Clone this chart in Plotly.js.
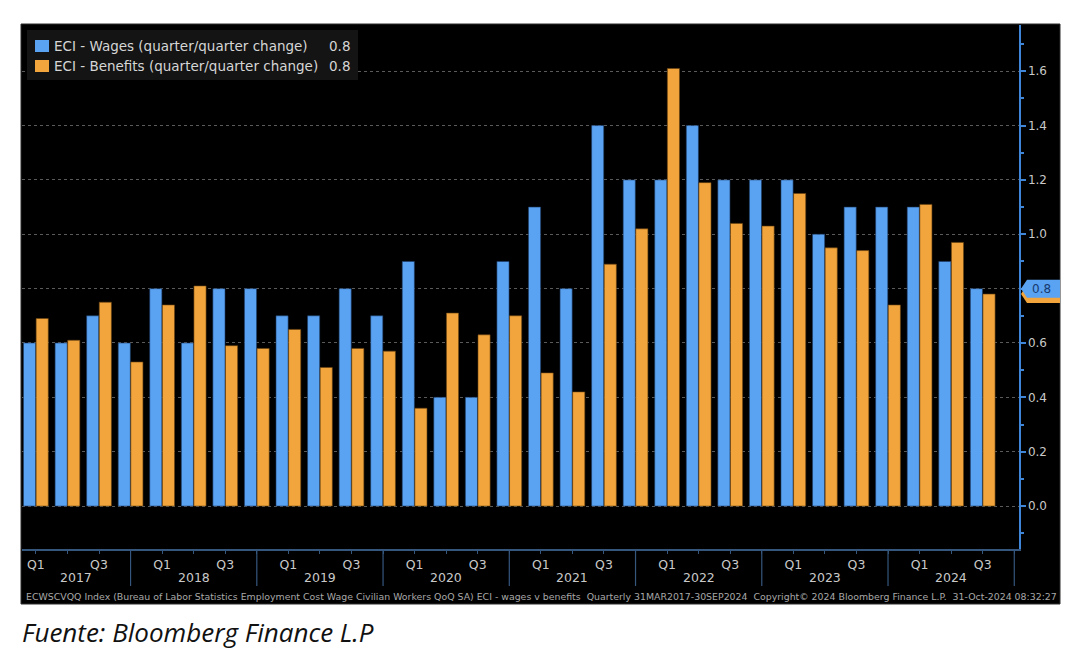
<!DOCTYPE html>
<html><head><meta charset="utf-8">
<script src="https://cdn.plot.ly/plotly-3.0.1.min.js"></script>
<style>html,body{margin:0;padding:0;background:#fff;}#chart{width:1084px;height:668px;}</style>
</head><body><div id="chart"></div>
<script>
// ---- data ----
const quarters = ["2017 Q1","2017 Q2","2017 Q3","2017 Q4",
  "2018 Q1","2018 Q2","2018 Q3","2018 Q4",
  "2019 Q1","2019 Q2","2019 Q3","2019 Q4",
  "2020 Q1","2020 Q2","2020 Q3","2020 Q4",
  "2021 Q1","2021 Q2","2021 Q3","2021 Q4",
  "2022 Q1","2022 Q2","2022 Q3","2022 Q4",
  "2023 Q1","2023 Q2","2023 Q3","2023 Q4",
  "2024 Q1","2024 Q2","2024 Q3"];
const wages = [0.6,0.6,0.7,0.6, 0.8,0.6,0.8,0.8, 0.7,0.7,0.8,0.7, 0.9,0.4,0.4,0.9,
  1.1,0.8,1.4,1.2, 1.2,1.4,1.2,1.2, 1.2,1.0,1.1,1.1, 1.1,0.9,0.8];
const benefits = [0.69,0.61,0.75,0.53, 0.74,0.81,0.59,0.58, 0.65,0.51,0.58,0.57, 0.36,0.71,0.63,0.70,
  0.49,0.42,0.89,1.02, 1.61,1.19,1.04,1.03, 1.15,0.95,0.94,0.74, 1.11,0.97,0.78];
const years = [2017,2018,2019,2020,2021,2022,2023,2024];
const yTicks = [0,0.2,0.4,0.6,0.8,1.0,1.2,1.4,1.6];
const seriesNames = ["ECI - Wages (quarter/quarter change)", "ECI - Benefits (quarter/quarter change)"];
const footerText = "ECWSCVQQ Index (Bureau of Labor Statistics Employment Cost Wage Civilian Workers QoQ SA) ECI - wages v benefits  Quarterly 31MAR2017-30SEP2024  Copyright\u00a9 2024 Bloomberg Finance L.P.  31-Oct-2024 08:32:27";
const captionText = "Fuente: Bloomberg Finance L.P";

// ---- styles ----
const BLUE = "#5aa2f2", ORANGE = "#f2a53d";
const FONT = "DejaVu Sans, Verdana, sans-serif";
const LBL = "#c9c9c9";

// plot-area geometry (pixels in page)
const L = 22, T = 25, R = 1019, B = 549;
const W = R - L, H = B - T;
const px = p => (p - L) / W;
const py = p => 1 - (p - T) / H;

const idx = quarters.map((q, i) => i);
const xRange = [-0.44, 31.15];
const yRange = [-0.158, 1.77];

const traces = [
  {type: "bar", x: idx, y: wages, name: seriesNames[0], text: quarters, textposition: "none",
   hovertemplate: "%{text}: %{y}<extra></extra>",
   marker: {color: BLUE, line: {color: "#1d3d66", width: 0.6}}},
  {type: "bar", x: idx, y: benefits, name: seriesNames[1], text: quarters, textposition: "none",
   hovertemplate: "%{text}: %{y}<extra></extra>",
   marker: {color: ORANGE, line: {color: "#6a4310", width: 0.6}}}
];

// x tick labels: Q1 / Q3
const tickvals = idx.concat([quarters.length]);
const ticktext = tickvals.map(i => {
  const q = quarters[i] ? quarters[i].split(" ")[1] : "";
  return (q === "Q1" || q === "Q3") ? q : "";
});

const lastW = wages[wages.length - 1], lastB = benefits[benefits.length - 1];

const shapes = [];
const annotations = [];

// black panel
shapes.push({type: "rect", xref: "paper", yref: "paper", x0: px(21), x1: px(1060), y0: py(604), y1: py(24),
  fillcolor: "#000", line: {color: "#2c2c2c", width: 1}, layer: "below"});

// year separators and labels
years.forEach((yr, k) => {
  const start = 4 * k - 1, end = 4 * k + 3;
  shapes.push({type: "line", xref: "x", yref: "paper", x0: start, x1: start, y0: py(549), y1: py(586),
    line: {color: "#35567d", width: 1.2}});
  if (k === years.length - 1) {
    shapes.push({type: "line", xref: "x", yref: "paper", x0: end, x1: end, y0: py(549), y1: py(586),
      line: {color: "#35567d", width: 1.2}});
  }
  const c = (Math.max(start, xRange[0]) + Math.min(end, xRange[1])) / 2;
  annotations.push({xref: "x", yref: "paper", x: c, y: py(577), text: String(yr), showarrow: false,
    xanchor: "center", yanchor: "middle", font: {family: FONT, size: 12.5, color: LBL}});
});

// legend box
shapes.push({type: "rect", xref: "paper", yref: "paper", x0: px(27), x1: px(358), y0: py(80), y1: py(30),
  fillcolor: "#141414", line: {width: 0}, layer: "above"});
const rowsY = [46, 66];
[BLUE, ORANGE].forEach((col, i) => {
  shapes.push({type: "rect", xref: "paper", yref: "paper", x0: px(35), x1: px(49), y0: py(rowsY[i] + 6), y1: py(rowsY[i] - 6),
    fillcolor: col, line: {width: 0}, layer: "above"});
  annotations.push({xref: "paper", yref: "paper", x: px(52), y: py(rowsY[i]), text: seriesNames[i], showarrow: false,
    xanchor: "left", yanchor: "middle", font: {family: FONT, size: 13.5, color: "#d6d6d6"}});
  const last = [lastW, lastB][i];
  annotations.push({xref: "paper", yref: "paper", x: px(352), y: py(rowsY[i]), text: last.toFixed(1), showarrow: false,
    xanchor: "right", yanchor: "middle", font: {family: FONT, size: 13.5, color: "#d6d6d6"}});
});

// last-value tags on right axis
const toPaperY = v => (v - yRange[0]) / (yRange[1] - yRange[0]);
function tag(v, col) {
  const yc = toPaperY(v), hh = 9 / H;
  const x0 = px(1021), x1 = px(1027), x2 = px(1060);
  shapes.push({type: "path", xref: "paper", yref: "paper",
    path: `M ${x0},${yc} L ${x1},${yc + hh} L ${x2},${yc + hh} L ${x2},${yc - hh} L ${x1},${yc - hh} Z`,
    fillcolor: col, line: {width: 0}, layer: "above"});
}
tag(lastB, ORANGE);
tag(lastW, BLUE);
annotations.push({xref: "paper", yref: "paper", x: px(1041), y: toPaperY(lastW),
  text: lastW.toFixed(1), showarrow: false, xanchor: "center", yanchor: "middle",
  font: {family: FONT, size: 12, color: "#173a6e"}});

// footer + caption
annotations.push({xref: "paper", yref: "paper", x: px(24), y: py(596), text: footerText, showarrow: false,
  xanchor: "left", yanchor: "middle", font: {family: FONT, size: 9.4, color: "#a8a8a8"}});
annotations.push({xref: "paper", yref: "paper", x: px(20), y: py(632), text: "<i>" + captionText + "</i>", showarrow: false,
  xanchor: "left", yanchor: "middle", font: {family: "Open Sans, Lato, sans-serif", size: 26, color: "#111"}});

const layout = {
  width: 1084, height: 668,
  margin: {l: L, r: 1084 - R, t: T, b: 668 - B, pad: 0},
  paper_bgcolor: "#fff", plot_bgcolor: "#000",
  barmode: "group", bargap: 0.2, bargroupgap: 0.04,
  showlegend: false,
  xaxis: {range: xRange, tickmode: "array", tickvals: tickvals, ticktext: ticktext,
    showgrid: false, zeroline: false, showline: true, linecolor: "#35567d", linewidth: 1.5,
    ticks: "outside", ticklen: 3, tickcolor: "#35567d", tickwidth: 1,
    tickfont: {family: FONT, size: 12.5, color: LBL}, fixedrange: true},
  yaxis: {range: yRange, side: "right", tickmode: "array", tickvals: yTicks,
    // the 0.8 level is shown by the last-value tag instead of a plain tick label
    ticktext: yTicks.map(v => Math.abs(v - lastW) < 1e-9 ? "" : v.toFixed(1)),
    showgrid: true, gridcolor: "#5a5a5a", griddash: "dot", gridwidth: 1, zeroline: false,
    showline: true, linecolor: "#3f86d8", linewidth: 1.5,
    ticks: "outside", ticklen: 5, tickcolor: "#3f86d8", tickwidth: 2,
    minor: {dtick: 0.1, tick0: 0, ticks: "outside", ticklen: 3, tickcolor: "#3f86d8", showgrid: false},
    tickfont: {family: FONT, size: 12, color: LBL}, fixedrange: true},
  shapes: shapes,
  annotations: annotations
};

Plotly.newPlot("chart", traces, layout, {displayModeBar: false, staticPlot: true});
</script>
</body></html>
